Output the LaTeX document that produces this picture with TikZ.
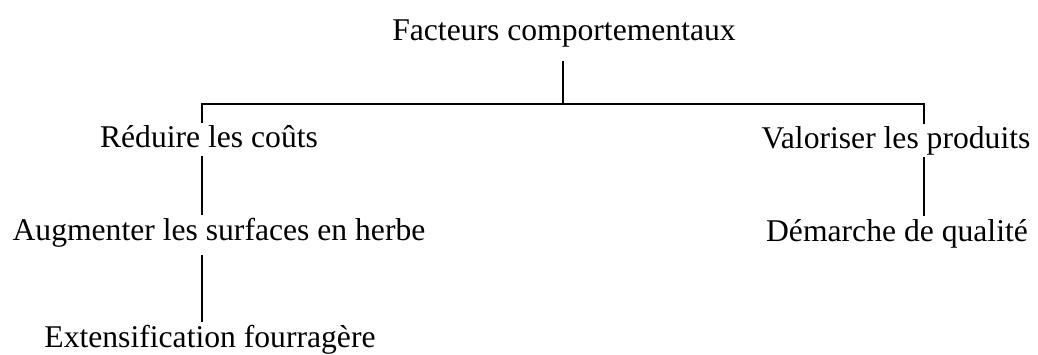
\documentclass[tikz,border=0pt]{standalone}
\usepackage{fontspec}
\setmainfont{Liberation Serif}
\usetikzlibrary{backgrounds}

\begin{document}
\begin{tikzpicture}[
  x=0.03cm, y=-0.03cm,
  factor/.style={fill=white, inner xsep=0pt, inner ysep=2pt,
    text height=18.9pt, text depth=5.4pt, anchor=base,
    font=\fontsize{27}{32}\selectfont},
  link/.style={line width=1.4pt, black},
]

% Page frame
\useasboundingbox (0,0) rectangle (1038,354);

% =============================================
% Tree nodes
% =============================================
\node[factor] (facteurs) at (564,40) {Facteurs comportementaux};

\node[factor] (couts) at (209,147) {Réduire les coûts};
\node[factor] (produits) at (896,148) {Valoriser les produits};

\node[factor] (herbe) at (219,240) {Augmenter les surfaces en herbe};
\node[factor] (qualite) at (897,241) {Démarche de qualité};

\node[factor] (fourrage) at (210,347) {Extensification fourragère};

% Junction points of the bar
\coordinate (hub) at (563,104);
\coordinate (jleft) at (202,104);
\coordinate (jright) at (924,104);

% =============================================
% Connectors (behind the texts)
% =============================================
\begin{scope}[on background layer]
\draw[link, shorten <=10pt] (facteurs.south -| hub) -- (hub);
\draw[link] (herbe.north -| jleft) -- (jleft) -- (jright) -- (qualite.north -| jright);
\draw[link, shorten <=5pt] (herbe.south -| jleft) -- (fourrage.north -| jleft);
\end{scope}

\end{tikzpicture}
\end{document}
